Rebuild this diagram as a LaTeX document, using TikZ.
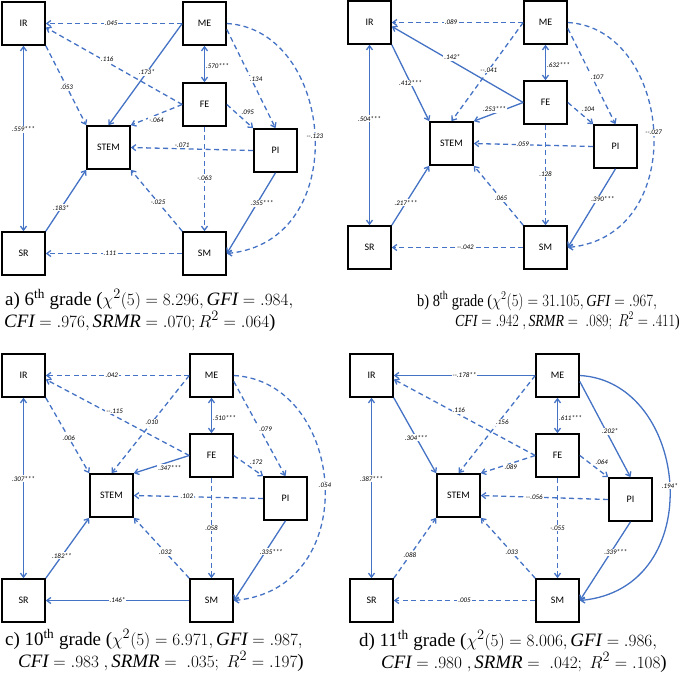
\documentclass[tikz,border=0pt]{standalone}
\usepackage{fontspec}
\setmainfont{Liberation Serif}
\newfontfamily\varfont{Carlito}
\usetikzlibrary{arrows.meta}
\definecolor{pathblue}{RGB}{68,114,196}
\tikzset{
    var/.style = {draw, line width=1.6bp, fill=white,
                  minimum width=43bp, minimum height=43bp,
                  font=\varfont\fontsize{10}{12}\selectfont
    },
    effect/.style = {draw=pathblue, line width=1.3bp,
                     >={Straight Barb[length=4bp,width=6bp]}
    },
    ns/.style = {effect, dash pattern=on 5bp off 3.5bp},
    coef/.style = {font=\varfont\itshape\fontsize{7}{8}\selectfont,
                   fill=white, inner sep=1pt
    },
    panel title/.style = {anchor=base west, inner sep=0pt,
                          font=\fontsize{19}{22}\selectfont
    },
}

\begin{document}
\begin{tikzpicture}[x=1bp, y=-1bp]
    \useasboundingbox (0,0) rectangle (685,678);

    % a) 6th grade
    \node (aIR) [var] at (23.5,23.5) {IR};
    \node (aME) [var] at (204.5,23.5) {ME};
    \node (aFE) [var] at (204.5,104.5) {FE};
    \node (aSTEM) [var] at (108.5,147.5) {STEM};
    \node (aPI) [var] at (275.5,150.5) {PI};
    \node (aSR) [var] at (23.5,253.5) {SR};
    \node (aSM) [var] at (204.5,253.5) {SM};

    \draw[ns,->] (aME.west) -- node[coef, pos=.52] {.045} (aIR.east);
    \draw[ns,->] (aFE.west) -- node[coef, pos=.55, yshift=3pt] {.116} (aIR.-10);
    \draw[ns,->] (aIR.south east) -- node[coef, pos=.52] {.053} (aSTEM.north west);
    \draw[effect,->] (aME.west) -- node[coef, pos=.48] {.173*} (aSTEM.north);
    \draw[effect,<->] (aME.south) -- node[coef, right, pos=.57, fill=none] {.570***} (aFE.north);
    \draw[ns,->] (aFE.west) -- node[coef, below, pos=.5, yshift=-1pt] {-.064} (aSTEM.north east);
    \draw[ns,->] (aPI.west) -- node[coef, above, pos=.58] {-.071} (aSTEM.east);
    \draw[ns,->] (aME.-15) -- node[coef, pos=.5, xshift=5pt] {.134} (aPI.north);
    \draw[ns,->] (aFE.east) -- node[coef, above right, pos=.5] {.095} (aPI.north west);
    \draw[ns,->] (aME.east) .. controls +(108,6) and +(127,-12) .. node[coef, pos=.5] {--.123} (aSM.east);
    \draw[ns,->] (aFE.south) -- node[coef, pos=.49] {-.063} (aSM.north);
    \draw[effect,->] (aPI.south) -- node[coef, pos=.38, xshift=5pt] {.355***} (aSM.east);
    \draw[ns,->] (aSM.north west) -- node[coef, pos=.47] {-.025} (aSTEM.south east);
    \draw[effect,->] (aSR.north east) -- node[coef, pos=.38] {.183*} (aSTEM.south west);
    \draw[effect,<->] (aIR.south) -- node[coef, pos=.45] {.559***} (aSR.north);
    \draw[ns,->] (aSM.west) -- node[coef, pos=.53] {.111} (aSR.east);

    \node (aT1) [panel title] at (5,305)
        {a) 6\textsuperscript{th} grade ($\chi^2(5) = 8.296, \mathit{GFI} = .984,$};
    \node (aT2) [panel title] at (4,327)
        {$\mathit{CFI} = .976, \mathit{SRMR} = .070; R^2 = .064$)};

    % b) 8th grade
    \node (bIR) [var] at (369.5,22.5) {IR};
    \node (bME) [var] at (545.5,22.5) {ME};
    \node (bFE) [var] at (545.5,102.5) {FE};
    \node (bSTEM) [var] at (451.5,143.5) {STEM};
    \node (bPI) [var] at (615.5,146.5) {PI};
    \node (bSR) [var] at (369.5,247.5) {SR};
    \node (bSM) [var] at (545.5,247.5) {SM};

    \draw[ns,->] (bME.west) -- node[coef, pos=.55] {.089} (bIR.east);
    \draw[effect,->] (bFE.west) -- node[coef, pos=.54, yshift=4pt] {.142*} (bIR.-10);
    \draw[effect,->] (bIR.south east) -- node[coef, pos=.5] {.412***} (bSTEM.north west);
    \draw[ns,->] (bME.west) -- node[coef, pos=.48] {--.041} (bSTEM.north);
    \draw[effect,<->] (bME.south) -- node[coef, right, pos=.57, fill=none] {.632***} (bFE.north);
    \draw[effect,->] (bFE.west) -- node[coef, above, pos=.58] {.253***} (bSTEM.north east);
    \draw[ns,->] (bPI.west) -- node[coef, pos=.59] {.059} (bSTEM.east);
    \draw[ns,->] (bME.-15) -- node[coef, pos=.51, xshift=5pt] {.107} (bPI.north);
    \draw[ns,->] (bFE.east) -- node[coef, above right, pos=.5] {.104} (bPI.north west);
    \draw[ns,->] (bME.east) .. controls +(105,6) and +(124,-12) .. node[coef, pos=.5] {--.027} (bSM.east);
    \draw[ns,->] (bFE.south) -- node[coef, pos=.49] {.128} (bSM.north);
    \draw[effect,->] (bPI.south) -- node[coef, pos=.39, xshift=6pt] {.390***} (bSM.east);
    \draw[ns,->] (bSM.north west) -- node[coef, pos=.45] {.065} (bSTEM.south east);
    \draw[effect,->] (bSR.north east) -- node[coef, pos=.38] {.217***} (bSTEM.south west);
    \draw[effect,<->] (bIR.south) -- node[coef, pos=.41] {.504***} (bSR.north);
    \draw[ns,->] (bSM.west) -- node[coef, pos=.44] {--.042} (bSR.east);

    \node (bT1) [panel title, font=\fontsize{17}{20}\selectfont] at (417,306)
        {\scalebox{0.85}[1]{b) 8\textsuperscript{th} grade ($\chi^2(5) = 31.105, \mathit{GFI} = .967,$}};
    \node (bT2) [panel title, font=\fontsize{17}{20}\selectfont] at (455,326)
        {\scalebox{0.82}[1]{$\mathit{CFI} = .942\ , \mathit{SRMR} =\ .089;\ R^2 = .411$)}};

    % c) 10th grade
    \node (cIR) [var] at (23.5,375.5) {IR};
    \node (cME) [var] at (211.5,375.5) {ME};
    \node (cFE) [var] at (211.5,455.5) {FE};
    \node (cSTEM) [var] at (111.5,495.5) {STEM};
    \node (cPI) [var] at (285.5,498.5) {PI};
    \node (cSR) [var] at (23.5,600.5) {SR};
    \node (cSM) [var] at (211.5,600.5) {SM};

    \draw[ns,->] (cME.west) -- node[coef, pos=.54] {.042} (cIR.east);
    \draw[ns,->] (cFE.west) -- node[coef, pos=.52, yshift=5pt] {--.115} (cIR.-10);
    \draw[ns,->] (cIR.south east) -- node[coef, pos=.53] {.006} (cSTEM.north west);
    \draw[ns,->] (cME.west) -- node[coef, pos=.48] {.010} (cSTEM.north);
    \draw[effect,<->] (cME.south) -- node[coef, right, pos=.56, fill=none] {.510***} (cFE.north);
    \draw[effect,->] (cFE.west) -- node[coef, below, pos=.35, yshift=-2pt] {.347***} (cSTEM.north east);
    \draw[ns,->] (cPI.west) -- node[coef, pos=.59] {.102} (cSTEM.east);
    \draw[ns,->] (cME.-15) -- node[coef, pos=.5, xshift=6pt] {.079} (cPI.north);
    \draw[ns,->] (cFE.east) -- node[coef, above right, pos=.5] {.172} (cPI.north west);
    \draw[ns,->] (cME.east) .. controls +(112,6) and +(131,-12) .. node[coef, pos=.5] {.054} (cSM.east);
    \draw[ns,->] (cFE.south) -- node[coef, pos=.5] {.058} (cSM.north);
    \draw[effect,->] (cPI.south) -- node[coef, pos=.39, xshift=6pt] {.335***} (cSM.east);
    \draw[ns,->] (cSM.north west) -- node[coef, pos=.43] {.032} (cSTEM.south east);
    \draw[effect,->] (cSR.north east) -- node[coef, pos=.37] {.182**} (cSTEM.south west);
    \draw[effect,<->] (cIR.south) -- node[coef, pos=.45] {.307***} (cSR.north);
    \draw[effect,->] (cSM.west) -- node[coef, pos=.5] {.146*} (cSR.east);

    \node (cT1) [panel title] at (5,645)
        {c) 10\textsuperscript{th} grade ($\chi^2(5) = 6.971, \mathit{GFI} = .987,$};
    \node (cT2) [panel title] at (18,667)
        {$\mathit{CFI} = .983\ , \mathit{SRMR} =\ .035;\ R^2 = .197$)};

    % d) 11th grade
    \node (dIR) [var] at (371.5,375.5) {IR};
    \node (dME) [var] at (557.5,375.5) {ME};
    \node (dFE) [var] at (557.5,455.5) {FE};
    \node (dSTEM) [var] at (458.5,495.5) {STEM};
    \node (dPI) [var] at (630.5,499.5) {PI};
    \node (dSR) [var] at (371.5,600.5) {SR};
    \node (dSM) [var] at (557.5,600.5) {SM};

    \draw[effect,->] (dME.west) -- node[coef, pos=.5] {--.178**} (dIR.east);
    \draw[ns,->] (dFE.west) -- node[coef, pos=.54, yshift=4pt] {.116} (dIR.-10);
    \draw[effect,->] (dIR.south east) -- node[coef, pos=.53] {.304***} (dSTEM.north west);
    \draw[ns,->] (dME.west) -- node[coef, pos=.48, xshift=4pt] {.156} (dSTEM.north);
    \draw[effect,<->] (dME.south) -- node[coef, right, pos=.57, fill=none] {.611***} (dFE.north);
    \draw[ns,->] (dFE.west) -- node[coef, below, pos=.45] {.089} (dSTEM.north east);
    \draw[ns,->] (dPI.west) -- node[coef, pos=.58] {--.056} (dSTEM.east);
    \draw[effect,->] (dME.-15) -- node[coef, pos=.52, xshift=4pt] {.202*} (dPI.north);
    \draw[ns,->] (dFE.east) -- node[coef, above right, pos=.5] {.064} (dPI.north west);
    \draw[effect,->] (dME.east) .. controls +(110,6) and +(130,-12) .. node[coef, pos=.5] {.194*} (dSM.east);
    \draw[ns,->] (dFE.south) -- node[coef, pos=.5] {-.055} (dSM.north);
    \draw[effect,->] (dPI.south) -- node[coef, pos=.39, xshift=5pt] {.339***} (dSM.east);
    \draw[ns,->] (dSM.north west) -- node[coef, pos=.43] {.033} (dSTEM.south east);
    \draw[ns,->] (dSR.north east) -- node[coef, pos=.38] {.088} (dSTEM.south west);
    \draw[effect,<->] (dIR.south) -- node[coef, pos=.45] {.387***} (dSR.north);
    \draw[ns,->] (dSM.west) -- node[coef, pos=.5] {.005} (dSR.east);

    \node (dT1) [panel title] at (359,646)
        {d) 11\textsuperscript{th} grade ($\chi^2(5) = 8.006, \mathit{GFI} = .986,$};
    \node (dT2) [panel title] at (381,668)
        {$\mathit{CFI} = .980\ , \mathit{SRMR} =\ .042;\ R^2 = .108$)};
\end{tikzpicture}
\end{document}
